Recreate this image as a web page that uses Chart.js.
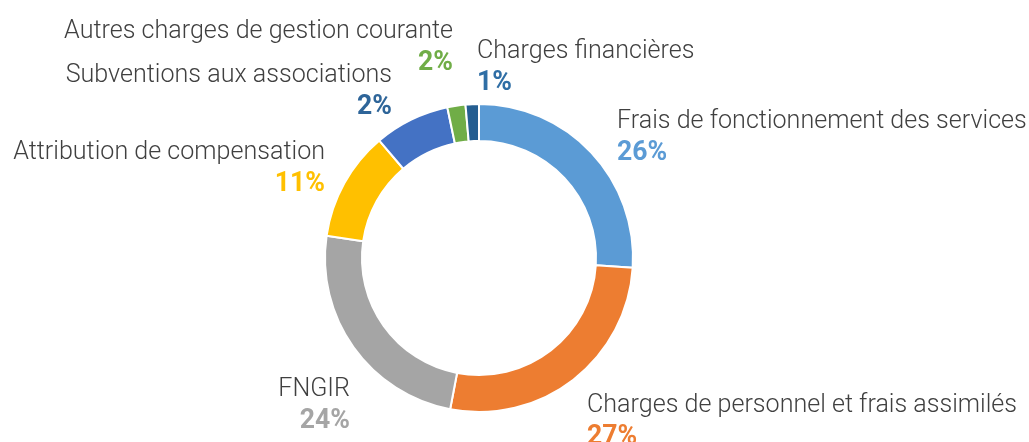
<!DOCTYPE html>
<html lang="fr">
  <head>
    <meta charset="UTF-8" />
    <title>Répartition des charges</title>
    <script src="https://cdn.jsdelivr.net/npm/chart.js"></script>
    <style>
      html, body {
        margin: 0;
        padding: 0;
        background: #fff;
      }
      .wrap {
        width: 1029px;
        height: 442px;
        position: relative;
      }
    </style>
  </head>
  <body>
    <div class="wrap">
      <canvas id="chargesChart"></canvas>
    </div>
    <script>
      const categories = [
        "Frais de fonctionnement des services",
        "Charges de personnel et frais assimilés",
        "FNGIR",
        "Attribution de compensation",
        "Subventions aux associations",
        "Autres charges de gestion courante",
        "Charges financières",
      ];
      // slice sizes as read from the ring
      const shares = [26, 27, 24.3, 11.5, 7.9, 1.9, 1.4];
      // percentages printed in the labels
      const pctLabels = ["26%", "27%", "24%", "11%", "2%", "2%", "1%"];

      const sliceColors = ["#5B9BD5", "#ED7D31", "#A5A5A5", "#FFC000", "#4472C4", "#70AD47", "#255E91"];
      const pctColors = ["#5B9BD5", "#ED7D31", "#A5A5A5", "#FFC000", "#2E6599", "#70AD47", "#2F6EA5"];

      // label placement: offset from ring centre (baseline of the name line), text alignment
      const labelPlace = [
        { dx: 138, dy: -130, align: "left" },
        { dx: 108, dy: 154, align: "left" },
        { dx: -129, dy: 138, align: "right" },
        { dx: -154, dy: -99, align: "right" },
        { dx: -87, dy: -176, align: "right" },
        { dx: -26, dy: -220, align: "right" },
        { dx: -2, dy: -200, align: "left" },
      ];

      // the original font is a bit narrower than Roboto
      function squeezedText(ctx, text, x, y, sx) {
        ctx.save();
        ctx.translate(x, y);
        ctx.scale(sx, 1);
        ctx.fillText(text, 0, 0);
        ctx.restore();
      }

      const outsideLabels = {
        id: "outsideLabels",
        afterDraw(chart) {
          const ctx = chart.ctx;
          const arc0 = chart.getDatasetMeta(0).data[0];
          const cx = arc0.x;
          const cy = arc0.y;
          ctx.save();
          ctx.textBaseline = "alphabetic";
          categories.forEach((name, i) => {
            const p = labelPlace[i];
            const x = cx + p.dx;
            const y = cy + p.dy;
            ctx.textAlign = p.align;
            ctx.fillStyle = "#404040";
            ctx.font = "300 26px Roboto";
            squeezedText(ctx, name, x, y, 0.965);
            ctx.fillStyle = pctColors[i];
            ctx.font = "bold 28px Roboto";
            squeezedText(ctx, pctLabels[i], x, y + 32, 0.95);
          });
          ctx.restore();
        },
      };

      const ctx = document.getElementById("chargesChart").getContext("2d");
      new Chart(ctx, {
        type: "doughnut",
        data: {
          labels: categories,
          datasets: [
            {
              data: shares,
              backgroundColor: sliceColors,
              borderColor: "#ffffff",
              borderWidth: 2,
            },
          ],
        },
        options: {
          responsive: true,
          maintainAspectRatio: false,
          animation: false,
          cutout: "76%",
          layout: {
            padding: { top: 103, bottom: 29, left: 300, right: 371 },
          },
          plugins: {
            legend: { display: false },
            tooltip: { enabled: false },
          },
        },
        plugins: [outsideLabels],
      });
    </script>
  </body>
</html>
